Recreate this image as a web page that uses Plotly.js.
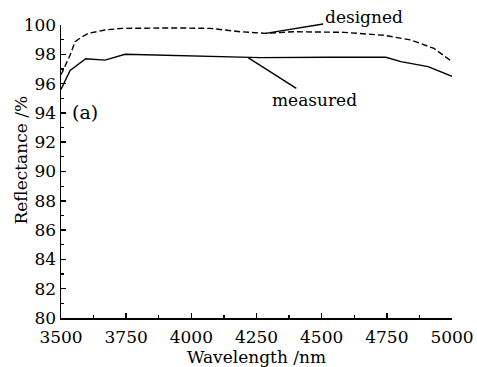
<!DOCTYPE html>
<html>
<head>
<meta charset="utf-8">
<script src="https://cdn.plot.ly/plotly-3.0.1.min.js"></script>
<style>html,body{margin:0;padding:0;background:#fff;}#chart{width:477px;height:367px;}</style>
</head>
<body>
<div id="chart"></div>
<script>
const designedX = [3500, 3535, 3554, 3573, 3605, 3669, 3733, 3881, 3941, 4073, 4188, 4285, 4392, 4585, 4738, 4842, 4931, 5000];
const designedY = [96.6, 97.95, 98.86, 99.1, 99.43, 99.66, 99.77, 99.8, 99.8, 99.77, 99.54, 99.43, 99.54, 99.5, 99.3, 98.98, 98.4, 97.5];
const measuredX = [3500, 3535, 3595, 3669, 3746, 3881, 4100, 4265, 4523, 4746, 4804, 4908, 5000];
const measuredY = [95.6, 96.9, 97.7, 97.6, 98.0, 97.95, 97.84, 97.77, 97.8, 97.8, 97.5, 97.16, 96.5];
const xTicks = [3500, 3750, 4000, 4250, 4500, 4750, 5000];
const yTicks = [80, 82, 84, 86, 88, 90, 92, 94, 96, 98, 100];

const font = {family: 'DejaVu Serif, serif', size: 17, color: '#000'};

const traces = [
  {x: designedX, y: designedY, mode: 'lines', name: 'designed',
   line: {color: '#000', width: 1.4, dash: '6px,3px'}},
  {x: measuredX, y: measuredY, mode: 'lines', name: 'measured',
   line: {color: '#000', width: 1.4}}
];

const axisCommon = {
  showgrid: false, zeroline: false, showline: true, linecolor: '#000', linewidth: 1.5,
  ticks: 'inside', ticklen: 5, tickwidth: 1.5, tickcolor: '#000', mirror: false,
  tickfont: font
};

const layout = {
  width: 477, height: 367,
  margin: {l: 61, r: 25, t: 25, b: 49},
  paper_bgcolor: '#fff', plot_bgcolor: '#fff',
  showlegend: false,
  font: font,
  xaxis: Object.assign({}, axisCommon, {
    range: [3500, 5000], tickvals: xTicks, ticktext: xTicks.map(String),
    ticklabelstandoff: 3,
    minor: {dtick: 125, ticks: 'inside', ticklen: 3, tickwidth: 1.2, tickcolor: '#000'},
    title: {text: 'Wavelength /nm', font: font, standoff: 4}
  }),
  yaxis: Object.assign({}, axisCommon, {
    range: [80, 100], tickvals: yTicks, ticktext: yTicks.map(String),
    minor: {dtick: 1, ticks: 'inside', ticklen: 3, tickwidth: 1.2, tickcolor: '#000'}
  }),
  annotations: [
    {x: -0.103, y: 0.54, xref: 'paper', yref: 'paper', text: 'Reflectance /%', textangle: -90,
     showarrow: false, font: font, xanchor: 'center', yanchor: 'middle'},
    {x: 4285, y: 99.43, xref: 'x', yref: 'y', text: 'designed', showarrow: true,
     arrowhead: 0, arrowwidth: 1.4, arrowcolor: '#000', ax: 98, ay: -16, font: font, standoff: 0},
    {x: 4219, y: 97.75, xref: 'x', yref: 'y', text: 'measured', showarrow: true,
     arrowhead: 0, arrowwidth: 1.4, arrowcolor: '#000', ax: 66, ay: 42, font: font, standoff: 0},
    {x: 3536, y: 94.05, xref: 'x', yref: 'y', text: '(a)', showarrow: false, xanchor: 'left',
     font: {family: 'DejaVu Serif, serif', size: 19, color: '#000'}}
  ]
};

Plotly.newPlot('chart', traces, layout, {displayModeBar: false, staticPlot: true});
</script>
</body>
</html>
